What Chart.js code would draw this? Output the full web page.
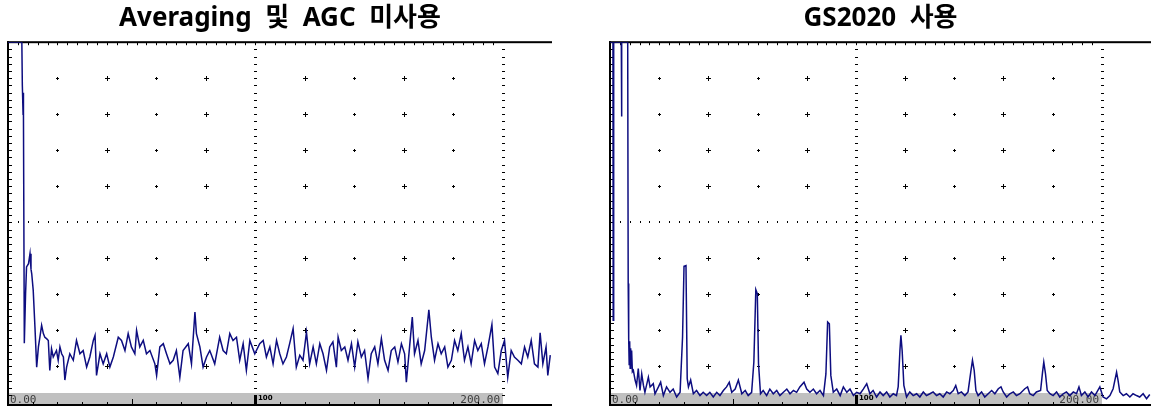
<!DOCTYPE html>
<html>
<head>
<meta charset="utf-8">
<script src="https://cdn.jsdelivr.net/npm/chart.js@4.4.1/dist/chart.umd.min.js"></script>
<style>
  html, body { margin: 0; padding: 0; background: #fff; }
  body { width: 1151px; height: 410px; position: relative; overflow: hidden; }
  .panel { position: absolute; top: 0; height: 410px; }
  #leftPanel { left: 0; width: 560px; }
  #rightPanel { left: 600px; width: 551px; }
</style>
</head>
<body>
<div class="panel" id="leftPanel"><canvas id="rawChart"></canvas></div>
<div class="panel" id="rightPanel"><canvas id="gsChart"></canvas></div>
<script>
// A-scan without averaging / AGC (distance in screen units, amplitude in % of screen height)
const rawDistance = [0,5.6,5.8,6.1,6.2,6.3,6.6,7.1,7.5,8.3,8.9,9.3,9.6,10.2,10.9,11.6,12.3,12.9,13.6,14.3,14.9,15.6,16.3,16.9,17.6,18.3,19.6,20.3,21.0,21.7,22.4,23.0,23.7,25.0,26.4,27.7,29.1,30.4,31.8,33.1,34.5,35.2,35.8,37.2,38.5,39.9,41.2,42.6,44.6,45.9,47.3,48.6,49.9,51.3,52.0,53.3,54.7,56.0,57.4,59.4,60.1,61.4,62.8,64.1,65.5,66.8,68.1,69.5,70.8,72.9,74.2,75.6,76.2,77.6,78.9,80.3,81.6,83.6,85.6,87.0,88.3,89.7,91.0,92.4,93.7,95.1,96.4,97.8,99.8,101.8,103.2,104.5,105.9,107.2,108.6,109.9,111.2,112.6,113.9,115.3,116.6,118.0,119.3,120.7,122.0,123.4,124.7,126.1,127.4,128.8,130.1,131.4,132.8,133.5,134.8,136.2,137.5,138.9,140.2,141.5,142.9,144.2,145.6,146.9,148.3,149.6,151.0,152.3,153.7,155.0,156.4,157.7,159.1,160.4,161.1,162.4,163.5,164.4,165.8,167.1,168.5,170.2,171.2,172.5,173.9,175.2,176.6,177.9,179.3,180.6,181.9,183.3,184.6,186.0,187.3,188.7,190.0,191.4,192.7,194.1,195.7,196.8,198.1,199.5,200.8,202.1,203.5,204.8,206.2,207.6,208.9,210.2,211.6,212.9,214.3,215.2,216.3,217.6,218.3,219.3];
const rawAmplitude = [100,100,88,80,86,80,16.4,30,37.6,38.5,41.3,37,35.7,31.1,20.9,9.8,15.4,18.1,21.4,19.1,18.1,17.7,17.2,8.9,14.9,12.6,14.4,11.7,15.4,13.5,12.6,6.2,9.8,13.5,11.7,17.2,13.5,14.4,9.8,12.6,17.2,18.6,7.5,13.5,10.7,13.5,9.8,12.6,18.1,17.2,14.4,19.1,15.4,13.5,20,15.4,17.2,13.5,14.4,10.7,7.5,15.4,16.3,13.5,10.7,11.7,14.4,7.0,14.4,16.3,10.7,25.1,19.1,15.4,9.8,12.6,14.4,10.7,18.1,14.4,13.5,19.1,17.2,18.1,11.7,16.3,8.9,17.2,13.5,16.3,17.2,12.6,15.4,10.7,17.2,13.5,10.7,12.6,16.3,20.5,9.8,13.1,11.7,19.5,10.7,15.4,10.7,16.3,13.5,8.9,15.4,16.8,9.8,18.1,14.4,15.4,11.7,16.3,9.8,16.8,12.6,14.4,6.6,13.5,15.4,10.7,17.7,11.7,8.9,14.4,15.4,11.2,16.3,13.5,5.6,15.4,23.7,13.5,17.2,10.7,14.4,25.7,18.1,11.7,16.3,13.5,15.4,9.8,11.7,17.2,14.4,19.1,11.7,15.4,10.7,17.2,14.4,16.3,10.7,15.4,21.6,9.8,8.0,14.4,17.2,7.0,14.4,12.6,11.7,10.7,15.4,12.6,17.2,10.7,9.8,19.3,10.7,15.4,7.5,13.1];

// A-scan with GS2020
const gsDistance = [0,1.2,1.3,1.5,4.6,4.7,4.8,7.2,7.4,7.6,7.8,8.0,8.2,8.4,8.6,8.8,9.1,9.5,10.2,10.8,11.5,12.2,12.9,13.6,14.2,15.6,16.3,17.6,18.3,19.7,20.6,21.7,23.0,24.4,25.7,27.1,28.5,29.5,30.1,30.9,31.4,31.9,32.8,33.9,35.2,36.6,37.9,39.3,40.6,42.0,43.4,44.7,46.1,47.4,48.5,49.5,50.9,52.2,53.6,55.0,56.2,57.6,58.5,59.3,59.9,60.4,61.2,62.3,63.7,65.0,66.4,67.8,69.1,70.5,71.9,73.2,74.6,75.9,77.2,78.9,80.0,81.3,82.7,84.0,85.4,86.8,87.8,88.5,89.2,89.8,90.8,92.2,93.6,94.9,96.3,97.6,99.0,100.3,101.7,103.0,104.4,105.7,107.0,108.4,109.8,111.1,112.5,113.8,115.2,116.5,117.2,117.9,118.3,118.8,119.5,120.6,121.9,123.3,124.7,126.0,127.4,128.7,130.1,131.4,132.8,134.1,135.5,136.9,138.2,139.6,140.6,141.6,142.9,144.3,145.6,146.7,147.4,148.1,148.8,149.7,151.1,152.4,153.8,155.2,156.5,157.9,159.0,159.9,161.3,162.6,164.0,165.3,166.7,168.7,169.8,170.7,172.1,173.4,175.1,175.9,176.4,177.1,177.8,178.9,180.2,181.6,182.9,184.3,185.6,187.0,188.4,189.7,190.7,191.7,193.1,194.4,195.8,197.2,199.2,200.5,201.9,203.3,204.6,206.0,206.6,207.3,208.7,210.0,211.4,212.7,214.1,215.4,216.8,218.2,219.5];
const gsAmplitude = [100,100,22.8,100,100,79.4,100,100,33,17.7,10.5,17,9.5,15,11,14.4,8.5,8.9,6.2,4.7,9.4,3.3,7.9,4.7,2.8,7.0,4.3,5.2,2.4,4.3,5.6,1.9,4.3,2.8,3.7,1.5,2.8,18.1,37.8,38,6.6,4.3,6.2,2.4,3.3,1.9,2.8,1.9,2.8,1.5,2.8,1.9,3.3,4.3,5.6,2.8,3.7,6.2,2.4,3.3,1.9,2.8,11.2,31.3,30.2,10.7,2.4,3.3,1.9,3.7,2.4,3.3,1.9,2.8,3.7,2.4,3.3,2.8,4.3,5.6,3.7,2.8,3.7,2.4,3.3,1.9,7.9,22.3,21.8,7.5,2.8,3.7,1.9,4.3,2.8,3.7,1.9,2.8,2.4,3.7,5.2,2.4,3.3,1.5,2.9,1.9,2.9,1.5,2.4,1.9,4.4,14.4,18.6,14.4,4.7,1.5,2.9,1.9,2.4,1.5,2.9,1.9,2.4,2.9,1.9,2.4,1.5,2.9,2.4,3.3,4.7,2.4,2.9,1.9,2.9,8.4,11.7,8.9,3.3,1.9,2.9,1.5,2.4,3.3,2.4,3.8,4.3,2.9,1.5,2.4,2.9,1.9,2.4,3.8,4.3,2.4,1.9,2.9,3.3,8.4,11.2,7.9,3.3,2.4,1.9,2.9,1.5,2.4,2.9,1.9,2.9,2.4,4.3,1.9,2.9,1.5,2.9,1.9,4.3,1.5,1.0,1.9,3.8,8.4,6.1,2.9,1.9,2.4,1.5,2.4,1.9,1.5,2.4,1.0,2.2];

// ruler under the screen
const rulerValues = [0, 100, 200];
const rulerLabels = ['0.00', '100', '200.00'];
const panelTitles = ['Averaging  및  AGC  미사용', 'GS2020  사용'];

function toPoints(xs, ys) {
  return xs.map((v, i) => ({x: v, y: ys[i]}));
}

// draws the flaw-detector screen: graticule, ruler, frame
const scopeScreen = {
  id: 'scopeScreen',
  beforeDatasetsDraw(chart) {
    const {ctx, chartArea: a, scales: {x, y}} = chart;
    const px = v => Math.round(x.getPixelForValue(v));
    const py = v => Math.round(y.getPixelForValue(v));
    ctx.save();

    // gray ruler strip
    const bandTop = py(2.6);
    ctx.fillStyle = '#c0c0c0';
    ctx.fillRect(px(0), bandTop, px(200) - px(0), a.bottom - bandTop);

    // ruler labels
    ctx.fillStyle = '#3c3c3c';
    ctx.textBaseline = 'alphabetic';
    ctx.font = '11px "DejaVu Sans Mono"';
    ctx.textAlign = 'left';
    ctx.fillText(rulerLabels[0], px(rulerValues[0]) + 2, a.bottom - 3);
    ctx.textAlign = 'right';
    ctx.fillText(rulerLabels[2], px(rulerValues[2]) - 3, a.bottom - 3);
    ctx.font = 'bold 7px "DejaVu Sans"';
    ctx.textAlign = 'left';
    ctx.fillStyle = '#000';
    ctx.fillText(rulerLabels[1], px(rulerValues[1]) + 3, a.bottom - 6);

    // ruler ticks
    ctx.fillStyle = '#000';
    for (let v = 10; v < 200; v += 10) {
      const major = v % 100 === 0;
      const h = major ? 11 : (v % 50 === 0 ? 7 : 4);
      ctx.fillRect(px(v) - (major ? 1 : 0), a.bottom - h, major ? 3 : 1, h);
    }

    // dotted division lines
    for (const c of [100, 200]) {
      for (let v = 2; v < 100; v += 2) ctx.fillRect(px(c) - 1, py(v), 3, 1);
    }
    for (let v = 4; v < 200; v += 4) ctx.fillRect(px(v), py(50) - 1, 1, 2);

    // graticule crosses
    for (let c = 20; c < 200; c += 20) {
      if (c === 100) continue;
      const arm = c % 40 === 0 ? 2 : 1;
      for (let r = 10; r < 100; r += 10) {
        if (r === 50) continue;
        const cx = px(c), cy = py(r);
        ctx.fillRect(cx - arm, cy, arm * 2 + 1, 1);
        ctx.fillRect(cx, cy - arm, 1, arm * 2 + 1);
      }
    }

    // frame ticks
    for (let v = 4; v <= 196; v += 4) ctx.fillRect(px(v), a.top, 1, 3);
    for (let v = 2; v < 100; v += 2) ctx.fillRect(a.left, py(v), 4, 1);

    // frame
    ctx.fillRect(a.left - 1, a.top - 1, 2, a.bottom - a.top + 1);
    ctx.fillRect(a.left - 1, a.top - 1, a.right - a.left + 1, 2);
    ctx.fillRect(a.left - 1, a.bottom - 2, a.right - a.left + 1, 2);
    ctx.restore();
  }
};

function makeChart(id, title, xs, ys, pad) {
  return new Chart(document.getElementById(id), {
    type: 'line',
    data: {
      datasets: [{
        data: toPoints(xs, ys),
        borderColor: '#0d0d80',
        borderWidth: 1.5,
        pointRadius: 0,
        tension: 0,
        fill: false
      }]
    },
    options: {
      animation: false,
      responsive: true,
      maintainAspectRatio: false,
      layout: { padding: pad },
      scales: {
        x: { type: 'linear', min: 0, max: 220, display: false },
        y: { min: -1, max: 100, display: false }
      },
      plugins: {
        legend: { display: false },
        tooltip: { enabled: false },
        title: {
          display: true,
          text: title,
          color: '#000',
          font: { family: '"Noto Sans", "Noto Sans CJK KR", sans-serif', size: 26, weight: 'bold' },
          padding: { top: 3, bottom: 8 }
        }
      }
    },
    plugins: [scopeScreen]
  });
}

makeChart('rawChart', panelTitles[0], rawDistance, rawAmplitude, { left: 8, right: 8, top: 0, bottom: 4 });
makeChart('gsChart', panelTitles[1], gsDistance, gsAmplitude, { left: 10, right: 0, top: 0, bottom: 4 });
</script>
</body>
</html>
